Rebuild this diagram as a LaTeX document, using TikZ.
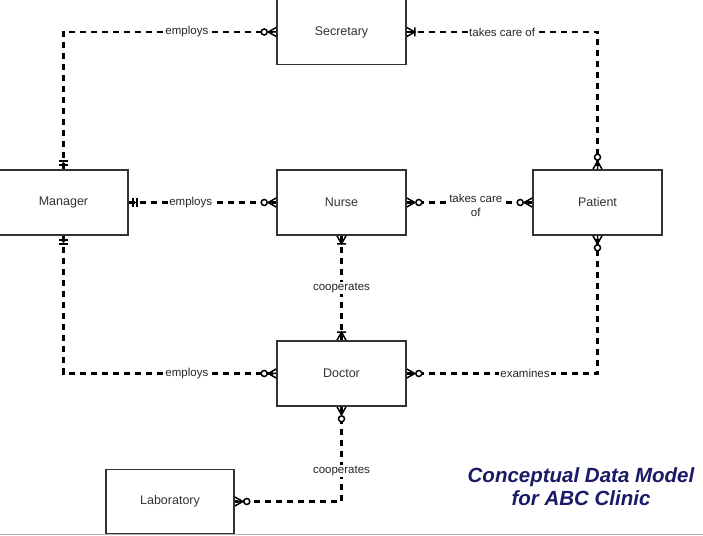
\documentclass[tikz,border=0pt]{standalone}
\usepackage{fontspec}
\setmainfont{Liberation Sans}
\definecolor{navy}{RGB}{26,26,102}
\begin{document}
\begin{tikzpicture}[x=1pt,y=1pt,entity/.style={shape=rectangle,draw=black!80,line width=1.6pt,minimum width=129pt,minimum height=65pt,inner sep=0pt,text=black!80,font=\fontsize{12.5}{14}\selectfont},rel/.style={line width=2.2pt,dash pattern=on 6pt off 5pt},relname/.style={fill=white,inner sep=1pt,text=black!85,font=\fontsize{11.5}{12.5}\selectfont},title/.style={align=center,text=navy,font=\fontsize{20.5}{23}\selectfont\bfseries\itshape},manyO/.pic={\draw[line width=1.5pt] (0,4.5)--(8,0)--(0,-4.5) (0,0)--(8,0); \draw[line width=1.5pt,fill=white] (12,0) circle (3pt);},manyI/.pic={\draw[line width=1.5pt] (0,4.5)--(8,0)--(0,-4.5) (0,0)--(8,0) (8,-4.5)--(8,4.5);},oneOnly/.pic={\draw[line width=1.5pt] (4,-4.5)--(4,4.5) (8,-4.5)--(8,4.5) (0,0)--(8,0);}]
\def\W{703};
\def\H{535};
\useasboundingbox (0,0) rectangle (\W,\H);
\fill[white] (0,0) rectangle (\W,\H);
\draw[black!30,line width=1pt] (0,1) -- (\W,1);

% entities
\node[entity] (Secretary) at (341.5,503) {Secretary};
\node[entity] (Manager) at (63.5,332.5) {Manager};
\node[entity] (Nurse) at (341.5,332.5) {Nurse};
\node[entity] (Patient) at (597.5,332.5) {Patient};
\node[entity] (Doctor) at (341.5,161.5) {Doctor};
\node[entity,minimum width=128pt,minimum height=64pt] (Laboratory) at (170,33.5) {Laboratory};

% relationships
\draw[rel] (Manager.north) |- node[relname,pos=0.79] {employs} (Secretary.west);
\draw[rel] (Secretary.east) -| node[relname,pos=0.25] {takes care of} (Patient.north);
\draw[rel] (Manager.east) -- node[relname,pos=0.42] {employs} (Nurse.west);
\draw[rel] (Nurse.east) -- node[relname,pos=0.55,align=center,yshift=-3pt,inner sep=0.5pt,font=\fontsize{11.5}{14}\selectfont] {takes care\\of} (Patient.west);
\draw[rel] (Nurse.south) -- node[relname] {cooperates} (Doctor.north);
\draw[rel] (Manager.south) |- node[relname,pos=0.79] {employs} (Doctor.west);
\draw[rel] (Doctor.east) -| node[relname,pos=0.31] {examines} (Patient.south);
\draw[rel] (Doctor.south) |- node[relname,pos=0.34] {cooperates} (Laboratory.east);

% cardinalities
\pic[rotate=90] at (Manager.north) {oneOnly};
\pic[rotate=180] at (Secretary.west) {manyO};
\pic at (Secretary.east) {manyI};
\pic[rotate=90] at (Patient.north) {manyO};
\pic at (Manager.east) {oneOnly};
\pic[rotate=180] at (Nurse.west) {manyO};
\pic at (Nurse.east) {manyO};
\pic[rotate=180] at (Patient.west) {manyO};
\pic[rotate=-90] at (Nurse.south) {manyI};
\pic[rotate=90] at (Doctor.north) {manyI};
\pic[rotate=-90] at (Manager.south) {oneOnly};
\pic[rotate=180] at (Doctor.west) {manyO};
\pic at (Doctor.east) {manyO};
\pic[rotate=-90] at (Patient.south) {manyO};
\pic[rotate=-90] at (Doctor.south) {manyO};
\pic at (Laboratory.east) {manyO};

\node[title] (Title) at (581,48) {Conceptual Data Model\\for ABC Clinic};
\end{tikzpicture}
\end{document}
